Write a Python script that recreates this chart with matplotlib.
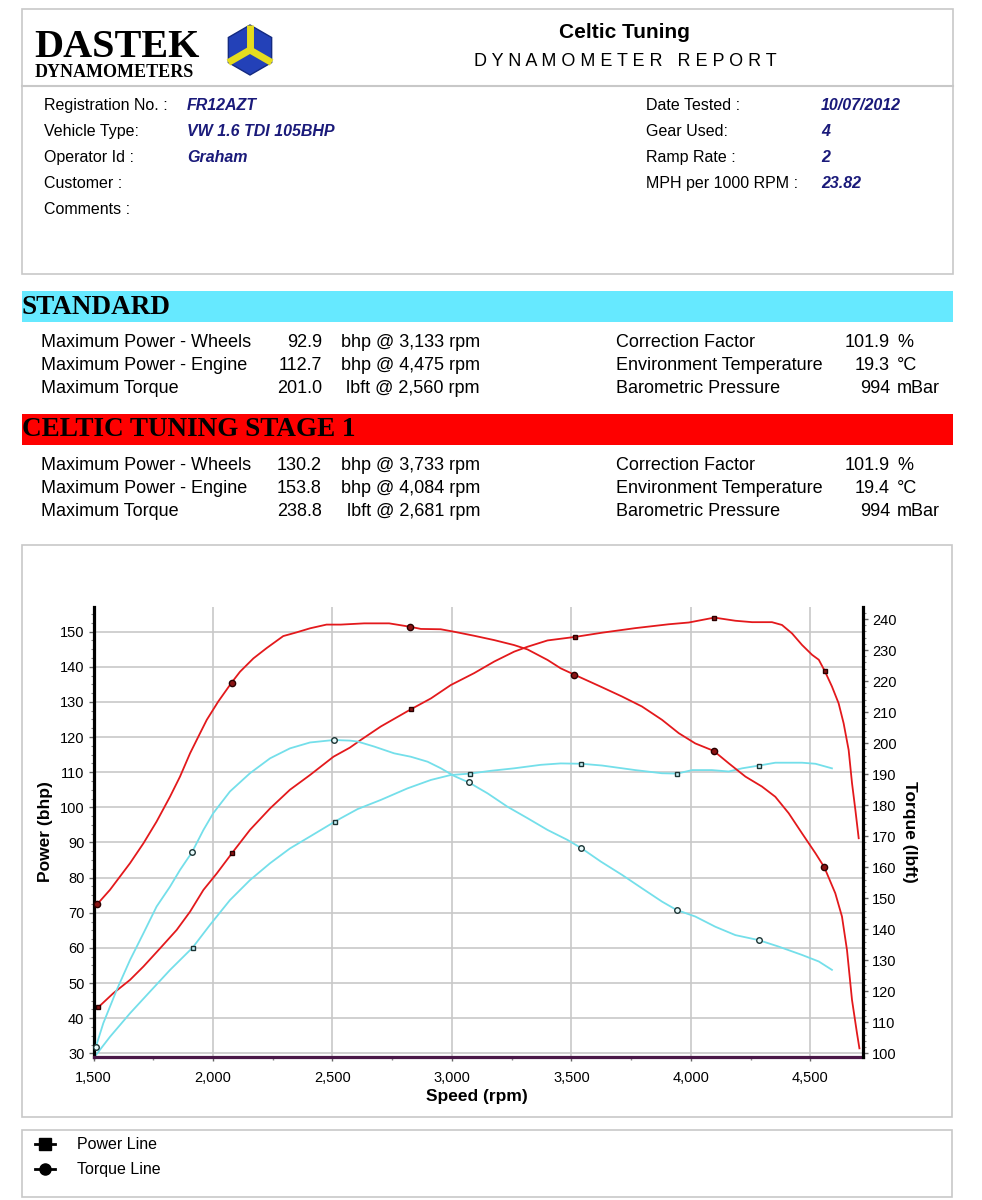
import numpy as np
import matplotlib
matplotlib.use("Agg")
import matplotlib.pyplot as plt
from matplotlib.patches import Rectangle, Polygon
from matplotlib.ticker import MultipleLocator, FuncFormatter

plt.rcParams['font.family'] = ['Liberation Sans', 'DejaVu Sans']

# -----------------------------
# Datos del informe
# -----------------------------
info_left_labels = ["Registration No. :", "Vehicle Type:", "Operator Id :", "Customer :", "Comments :"]
info_left_values = ["FR12AZT", "VW 1.6 TDI 105BHP", "Graham", "", ""]
info_right_labels = ["Date Tested :", "Gear Used:", "Ramp Rate :", "MPH per 1000 RPM :"]
info_right_values = ["10/07/2012", "4", "2", "23.82"]

stat_labels = ["Maximum Power - Wheels", "Maximum Power - Engine", "Maximum Torque"]
std_stat_values = ["92.9", "112.7", "201.0"]
std_stat_units = ["bhp @ 3,133 rpm", "bhp @ 4,475 rpm", "lbft @ 2,560 rpm"]
stg_stat_values = ["130.2", "153.8", "238.8"]
stg_stat_units = ["bhp @ 3,733 rpm", "bhp @ 4,084 rpm", "lbft @ 2,681 rpm"]
env_labels = ["Correction Factor", "Environment Temperature", "Barometric Pressure"]
std_env_values = ["101.9", "19.3", "994"]
stg_env_values = ["101.9", "19.4", "994"]
env_units = ["%", "°C", "mBar"]

# -----------------------------
# Curvas
# -----------------------------
stg_torque_rpm = [1516, 1569, 1611, 1653, 1709, 1764, 1820, 1862, 1904, 1946, 1974, 2022, 2078, 2113,
                  2169, 2224, 2294, 2350, 2406, 2475, 2535, 2633, 2737, 2825, 2870, 2953, 3009, 3093,
                  3177, 3260, 3316, 3400, 3455, 3511, 3628, 3712, 3795, 3879, 3949, 4018, 4095, 4158,
                  4228, 4297, 4353, 4409, 4465, 4521, 4558, 4604, 4632, 4653, 4674, 4695, 4705]
stg_torque = [148.1, 152.7, 157.0, 161.3, 167.7, 174.7, 182.7, 189.2, 196.7, 203.2, 207.5, 213.4, 219.5, 223.0,
              227.3, 230.6, 234.5, 235.7, 237.0, 238.2, 238.2, 238.6, 238.6, 237.5, 236.8, 236.7, 235.9, 234.6,
              233.2, 231.6, 230.2, 226.8, 224.1, 222.1, 218.0, 215.0, 211.8, 207.5, 203.2, 199.9, 197.5, 193.5,
              189.2, 186.0, 182.7, 177.4, 170.9, 164.5, 160.0, 151.6, 144.1, 133.3, 117.2, 106.4, 101.6]

stg_power_rpm = [1520, 1583, 1653, 1709, 1779, 1848, 1904, 1960, 2016, 2081, 2155, 2239, 2322, 2406,
                 2504, 2573, 2619, 2702, 2828, 2912, 2995, 3093, 3177, 3260, 3316, 3400, 3515, 3628,
                 3767, 3907, 3991, 4098, 4186, 4256, 4339, 4381, 4423, 4465, 4507, 4535, 4560, 4590,
                 4618, 4639, 4660, 4674, 4688, 4702]
stg_power = [43.1, 47.1, 50.9, 54.7, 59.9, 65.1, 70.3, 76.5, 81.2, 87.1, 93.6, 99.7, 105.0, 109.2,
             114.4, 117.0, 119.2, 123.0, 127.9, 131.0, 134.8, 138.2, 141.5, 144.3, 145.7, 147.5, 148.5, 149.7,
             151.0, 152.1, 152.6, 154.0, 153.1, 152.7, 152.7, 151.9, 149.5, 146.2, 143.4, 142.0, 138.8, 134.4,
             129.6, 123.9, 116.3, 106.9, 99.3, 91.2]

std_torque_rpm = [1510, 1541, 1597, 1653, 1709, 1764, 1820, 1862, 1912, 1960, 2001, 2071, 2155, 2239,
                  2322, 2406, 2506, 2573, 2605, 2674, 2758, 2828, 2898, 2953, 3009, 3071, 3149, 3232,
                  3316, 3400, 3483, 3542, 3623, 3712, 3795, 3879, 3940, 4018, 4102, 4186, 4283, 4367,
                  4465, 4535, 4590]
std_torque = [102.1, 109.7, 120.4, 130.1, 138.7, 147.3, 153.7, 159.1, 164.8, 172.0, 177.4, 184.4, 190.3, 195.1,
              198.3, 200.2, 201.0, 200.8, 200.5, 198.9, 196.7, 195.6, 194.0, 191.9, 189.4, 187.3, 183.8, 179.5,
              175.8, 172.0, 168.8, 166.1, 161.8, 157.5, 153.2, 148.9, 146.2, 144.1, 140.8, 138.1, 136.5, 134.4,
              131.7, 129.6, 126.9]

std_power_rpm = [1510, 1569, 1653, 1737, 1820, 1915, 1987, 2071, 2155, 2239, 2322, 2406, 2509, 2535,
                 2605, 2702, 2814, 2912, 2995, 3075, 3163, 3260, 3372, 3455, 3542, 3628, 3767, 3879,
                 3942, 4005, 4088, 4158, 4214, 4286, 4353, 4465, 4521, 4590]
std_power = [29.5, 34.7, 41.4, 47.6, 53.7, 60.1, 66.5, 73.6, 79.3, 84.1, 88.3, 91.7, 95.9, 96.9,
             99.5, 102.1, 105.4, 107.8, 109.2, 109.6, 110.4, 111.1, 112.1, 112.5, 112.4, 111.9, 110.6, 109.7,
             109.6, 110.6, 110.6, 110.2, 111.1, 111.9, 112.7, 112.7, 112.4, 111.1]

# marcadores sobre las curvas
stg_torque_mk_rpm = [1516, 2078, 2825, 3511, 4095, 4558]
stg_torque_mk = [148.1, 219.5, 237.5, 222.1, 197.5, 160.0]
stg_power_mk_rpm = [1520, 2081, 2828, 3515, 4098, 4560]
stg_power_mk = [43.1, 87.1, 127.9, 148.5, 154.0, 138.8]
std_torque_mk_rpm = [1510, 1912, 2506, 3071, 3542, 3940, 4283]
std_torque_mk = [102.1, 164.8, 201.0, 187.3, 166.1, 146.2, 136.5]
std_power_mk_rpm = [1915, 2509, 3075, 3542, 3942, 4286]
std_power_mk = [60.1, 95.9, 109.6, 112.4, 109.6, 111.9]

legend_labels = ["Power Line", "Torque Line"]

RED = '#e3191c'
CYAN = '#74dfea'
NAVY = '#1a1a7a'
BOX = '#c8c8c8'

# -----------------------------
# Figura y fondo en pixeles
# -----------------------------
fig = plt.figure(figsize=(9.82, 12), dpi=100)
bg = fig.add_axes([0, 0, 1, 1])
bg.set_xlim(0, 982)
bg.set_ylim(1200, 0)
bg.axis('off')

# cabecera
bg.add_patch(Rectangle((22, 9), 931, 265, fill=False, ec=BOX, lw=1.2))
bg.plot([22, 953], [86, 86], color=BOX, lw=1.5)

bg.text(34, 57, "DASTEK", family=['Liberation Serif', 'DejaVu Serif'], fontweight='bold',
        fontsize=29, va='baseline', ha='left')
bg.text(35, 77, "DYNAMOMETERS", family=['Liberation Serif', 'DejaVu Serif'], fontweight='bold',
        fontsize=13, va='baseline', ha='left')

# logo hexagonal
cx, cy, r = 250, 50, 25
hexa = [(cx + r * np.sin(a), cy - r * np.cos(a)) for a in np.radians(np.arange(0, 360, 60))]
bg.add_patch(Polygon(hexa, closed=True, fc='#2341b8', ec='#142a80', lw=1))
for a in [0, 120, 240]:
    ex = cx + r * np.sin(np.radians(a))
    ey = cy - r * np.cos(np.radians(a))
    bg.plot([cx, ex], [cy, ey], color='#e6dc1e', lw=5, solid_capstyle='butt')

bg.text(624, 32, "Celtic Tuning", fontsize=15, fontweight='bold', ha='center', va='center')
bg.text(625, 62, "D Y N A M O M E T E R   R E P O R T", fontsize=13, ha='center', va='center')

for i, (lab, val) in enumerate(zip(info_left_labels, info_left_values)):
    y = 110 + i * 26
    bg.text(44, y, lab, fontsize=11.5, va='baseline')
    bg.text(187, y, val, fontsize=11.5, va='baseline', color=NAVY, fontweight='bold', style='italic')
for i, (lab, val) in enumerate(zip(info_right_labels, info_right_values)):
    y = 110 + i * 26
    bg.text(646, y, lab, fontsize=11.5, va='baseline')
    bg.text(821, y, val, fontsize=11.5, va='baseline', color=NAVY, fontweight='bold', style='italic')


# bandas de resultados
def bloque(y0, color, titulo, valores, unidades, env_vals):
    bg.add_patch(Rectangle((22, y0), 931, 31, fc=color, ec='none'))
    bg.text(22, y0 + 16, titulo, family=['Liberation Serif', 'DejaVu Serif'], fontweight='bold',
            fontsize=19.5, va='center', ha='left')
    for i in range(3):
        y = y0 + 56 + i * 23
        bg.text(41, y, stat_labels[i], fontsize=13, va='baseline')
        bg.text(322, y, valores[i], fontsize=13, va='baseline', ha='right')
        bg.text(480, y, unidades[i], fontsize=13, va='baseline', ha='right')
        bg.text(616, y, env_labels[i], fontsize=13, va='baseline')
        bg.text(890, y, env_vals[i], fontsize=13, va='baseline', ha='right')
        bg.text(897, y, env_units[i], fontsize=13, va='baseline', ha='left')


bloque(291, '#66e9ff', "STANDARD", std_stat_values, std_stat_units, std_env_values)
bloque(414, '#fe0000', "CELTIC TUNING STAGE 1", stg_stat_values, stg_stat_units, stg_env_values)

# cajas del grafico y leyenda
bg.add_patch(Rectangle((22, 545), 930, 572, fill=False, ec=BOX, lw=1.2))
bg.add_patch(Rectangle((22, 1130), 930, 67, fill=False, ec=BOX, lw=1.2))
for i, (lab, mk) in enumerate(zip(legend_labels, ['s', 'o'])):
    y = 1144 + i * 25
    bg.plot([35, 55], [y, y], color='black', lw=2)
    bg.plot([45], [y], marker=mk, color='black', ms=8)
    bg.text(77, y + 5, lab, fontsize=11.5, va='baseline')

# -----------------------------
# Grafico de potencia / par
# -----------------------------
ax = fig.add_axes([93.5 / 982, (1200 - 1057.3) / 1200, (863 - 93.5) / 982, (1057.3 - 606.7) / 1200])
ax.set_facecolor('none')
ax.set_xlim(1500, 4720)
ax.set_ylim(28.86, 157.1)
ax2 = ax.twinx()
ax2.set_ylim(98.71, 243.97)

ax.set_axisbelow(True)
ax.set_xticks(range(1500, 4501, 500))
ax.set_yticks(range(30, 151, 10))
ax.xaxis.set_minor_locator(MultipleLocator(250))
ax.yaxis.set_minor_locator(MultipleLocator(2.5))
ax2.set_yticks(range(100, 241, 10))
ax2.yaxis.set_minor_locator(MultipleLocator(2))
ax.xaxis.set_major_formatter(FuncFormatter(lambda v, p: f"{int(v):,}"))
ax.grid(True, which='major', color=BOX, lw=1.2)

for s in ['top', 'right']:
    ax.spines[s].set_visible(False)
for s in ['top', 'left', 'bottom']:
    ax2.spines[s].set_visible(False)
ax.spines['left'].set_linewidth(2.3)
ax.spines['left'].set_color('black')
ax.spines['bottom'].set_linewidth(2.3)
ax.spines['bottom'].set_color('#4a1848')
ax2.spines['right'].set_linewidth(2.3)
ax2.spines['right'].set_color('black')

ax.tick_params(axis='x', which='major', length=3, width=1, color='#666666', pad=7, labelsize=10.5)
ax.tick_params(axis='x', which='minor', length=2.5, width=1, color='#888888')
ax.tick_params(axis='y', which='major', length=3.5, width=1, color='#666666', pad=3, labelsize=10.5)
ax.tick_params(axis='y', which='minor', length=2, width=0.8, color='#888888')
ax2.tick_params(axis='y', which='major', length=3.5, width=1, color='#666666', pad=3, labelsize=10.5)
ax2.tick_params(axis='y', which='minor', length=2, width=0.8, color='#888888')

ax.plot(std_power_rpm, std_power, color=CYAN, lw=1.3)
ax.plot(stg_power_rpm, stg_power, color=RED, lw=1.3)
ax2.plot(std_torque_rpm, std_torque, color=CYAN, lw=1.3)
ax2.plot(stg_torque_rpm, stg_torque, color=RED, lw=1.3)

ax.plot(std_power_mk_rpm, std_power_mk, ls='none', marker='s', ms=3.5, mfc='#c8f4f8', mec='#1c3434', mew=1)
ax.plot(stg_power_mk_rpm, stg_power_mk, ls='none', marker='s', ms=3.5, mfc='#8a1414', mec='#2a0000', mew=1)
ax2.plot(std_torque_mk_rpm, std_torque_mk, ls='none', marker='o', ms=4, mfc='#e8fbfc', mec='#1c3434', mew=1)
ax2.plot(stg_torque_mk_rpm, stg_torque_mk, ls='none', marker='o', ms=4.5, mfc='#8a1414', mec='#2a0000', mew=1)

ax.set_xlabel("Speed (rpm)", fontsize=12.5, fontweight='bold', va='center')
ax.xaxis.set_label_coords(0.498, -0.088)
ax.set_ylabel("Power (bhp)", fontsize=12.5, fontweight='bold', va='center', ha='center')
ax.yaxis.set_label_coords(-0.063, 0.5)
ax2.set_ylabel("Torque (lbft)", fontsize=12.5, fontweight='bold', rotation=270, va='center', ha='center')
ax2.yaxis.set_label_coords(1.061, 0.5)

fig.savefig("out.png", dpi=100)
